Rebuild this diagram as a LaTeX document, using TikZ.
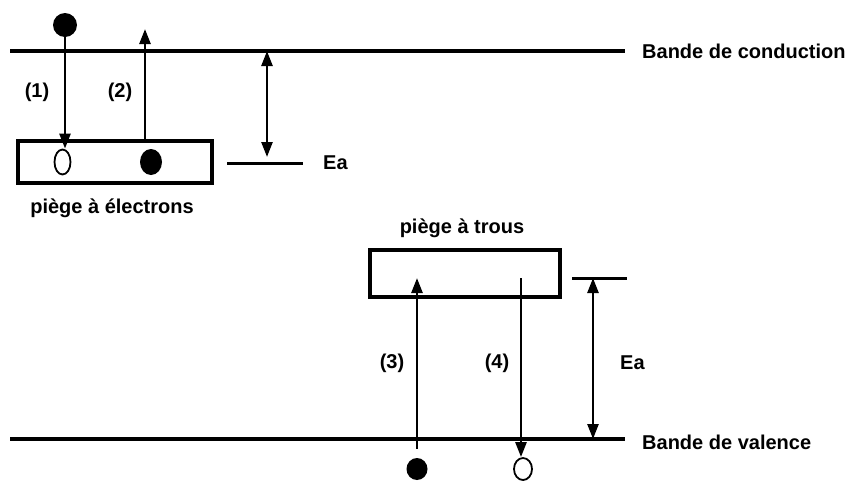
\documentclass[tikz,border=0pt]{standalone}
\usepackage{fontspec}
\setmainfont{Liberation Sans}
\usetikzlibrary{arrows.meta,shapes.geometric}
\tikzset{
  band/.style={line width=3.6pt},
  level/.style={line width=3pt},
  trap/.style={draw,line width=3.6pt,inner sep=0pt},
  arr/.style={line width=2.5pt,-{Triangle[length=15pt,width=11pt]}},
  darr/.style={line width=2.5pt,{Triangle[length=15pt,width=11pt]}-{Triangle[length=15pt,width=11pt]}},
  full/.style={ellipse,fill=black,inner sep=0pt},
  empty/.style={ellipse,draw,line width=1.8pt,fill=white,inner sep=0pt},
  lbl/.style={font=\fontsize{20}{23}\selectfont\bfseries,inner sep=0pt}
}
\begin{document}
\begin{tikzpicture}[x=1pt,y=-1pt]
\useasboundingbox (0,0) rectangle (847,483);
\coordinate (cbL) at (10,51);
\coordinate (cbR) at (625,51);
\coordinate (vbL) at (10,439);
\coordinate (vbR) at (625,439);
\draw[band] (cbL) -- (cbR);
\draw[band] (vbL) -- (vbR);
\node[lbl,anchor=west] (cbtxt) at (642,51) {Bande de conduction};
\node[lbl,anchor=west] (vbtxt) at (642,442) {Bande de valence};

\node[trap,minimum width=194pt,minimum height=42pt] (etrap) at (115,162) {};
\node[lbl] (etraptxt) at (112,208) {piège à électrons};
\node[trap,minimum width=190pt,minimum height=47pt] (htrap) at (465,273.5) {};
\node[lbl] (htraptxt) at (462,228) {piège à trous};

\node[full,minimum width=24pt,minimum height=24pt] (e1) at (65,25) {};
\node[empty,minimum width=16pt,minimum height=25pt] (h1) at (62.5,162) {};
\node[full,minimum width=22pt,minimum height=26pt] (e2) at (151,162) {};
\node[full,minimum width=21pt,minimum height=22pt] (b1) at (417,469) {};
\node[empty,minimum width=18pt,minimum height=22pt] (b2) at (523,469) {};

\coordinate (t2) at (145,29);
\coordinate (s2) at (145,141);
\coordinate (t3) at (417,278);
\coordinate (s4) at (521,278);
\draw[arr] (e1) -- (e1 |- h1.north);
\draw[arr] (s2) -- (t2);
\draw[arr,shorten <=9pt] (b1) -- (t3);
\draw[arr] (s4) -- (s4 |- b2.north);
\node[lbl] (n1) at (37,92) {(1)};
\node[lbl] (n2) at (120,92) {(2)};
\node[lbl] (n3) at (392,363) {(3)};
\node[lbl] (n4) at (497,363) {(4)};

\coordinate (ea1a) at (267,51);
\coordinate (ea1b) at (267,157);
\coordinate (lv1a) at (227,163);
\coordinate (lv1b) at (303,163);
\draw[darr] (ea1a) -- (ea1b);
\draw[level] (lv1a) -- (lv1b);
\node[lbl,anchor=west] (ea1) at (323,163) {Ea};

\coordinate (ea2a) at (593,278);
\coordinate (ea2b) at (593,439);
\coordinate (lv2a) at (572,278);
\coordinate (lv2b) at (627,278);
\draw[darr] (ea2a) -- (ea2b);
\draw[level] (lv2a) -- (lv2b);
\node[lbl,anchor=west] (ea2) at (620,363) {Ea};
\end{tikzpicture}
\end{document}
